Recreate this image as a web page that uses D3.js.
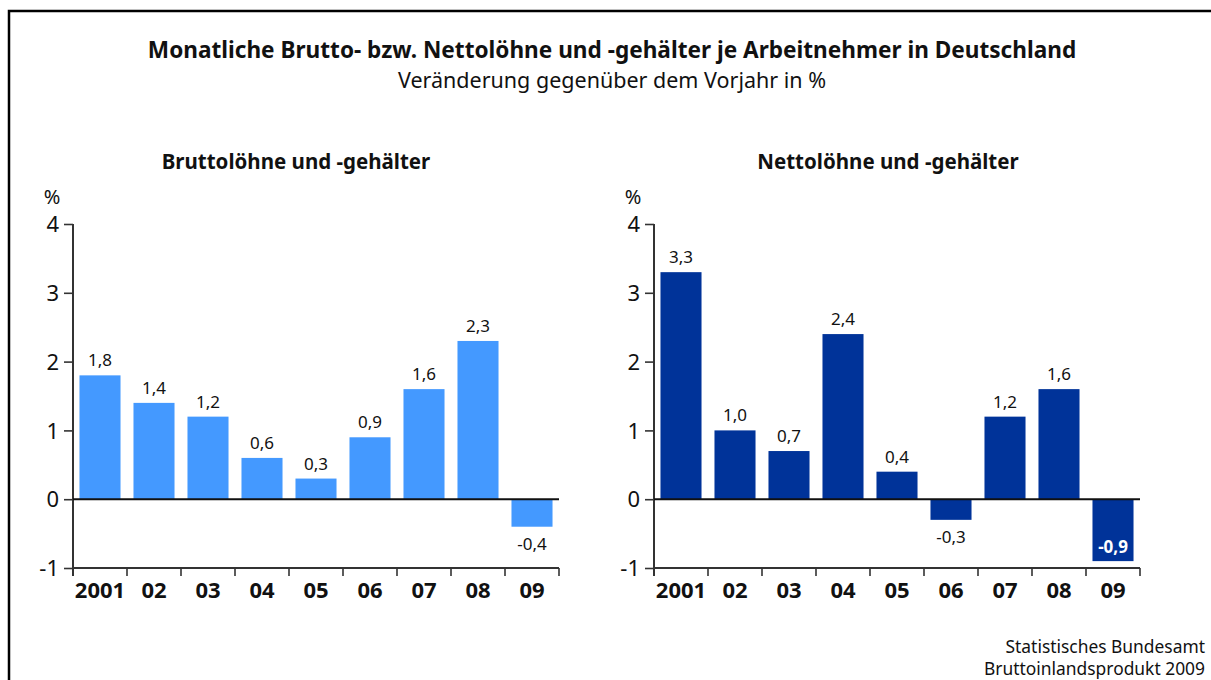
<!DOCTYPE html>
<html><head><meta charset="utf-8">
<script src="https://cdn.jsdelivr.net/npm/d3@7"></script>
<style>body{margin:0;background:#fff}svg{display:block;font-family:"Noto Sans",sans-serif}</style>
</head><body>
<svg id="c" width="1211" height="680"></svg>
<script>
const categories = ["2001","02","03","04","05","06","07","08","09"];
const brutto = [1.8,1.4,1.2,0.6,0.3,0.9,1.6,2.3,-0.4];
const netto = [3.3,1.0,0.7,2.4,0.4,-0.3,1.2,1.6,-0.9];
const yTicks = [-1,0,1,2,3,4];
const title = "Monatliche Brutto- bzw. Nettolöhne und -gehälter je Arbeitnehmer in Deutschland";
const subtitle = "Veränderung gegenüber dem Vorjahr in %";
const panelTitles = ["Bruttolöhne und -gehälter","Nettolöhne und -gehälter"];
const source = ["Statistisches Bundesamt","Bruttoinlandsprodukt 2009"];

const svg = d3.select("#c");
svg.append("path").attr("d","M9,690V11H1220").attr("fill","none").attr("stroke","#000").attr("stroke-width",2.5);

svg.append("text").attr("x",612).attr("y",58).attr("text-anchor","middle")
  .attr("font-size",22.6).attr("font-weight","bold").attr("fill","#111").text(title);
svg.append("text").attr("x",612).attr("y",88).attr("text-anchor","middle")
  .attr("font-size",21.5).attr("fill","#111").text(subtitle);

const y = d3.scaleLinear().domain([-1,4]).range([568,224]);
const fmt = v => d3.format(".1f")(v).replace(".",",").replace("−","-");

function panel(x0, data, color, ptitle, titleX, inside) {
  const x = d3.scaleBand().domain(categories).range([x0, x0+486]).paddingInner(0.24).paddingOuter(0.12);
  const g = svg.append("g");
  g.append("text").attr("x",titleX).attr("y",169).attr("text-anchor","middle")
    .attr("font-size",20.5).attr("font-weight","bold").attr("fill","#111").text(ptitle);
  g.append("text").attr("x",x0-21).attr("y",204).attr("text-anchor","middle")
    .attr("font-size",20).attr("fill","#111").text("%");
  // bars
  g.selectAll("rect.b").data(data).join("rect")
    .attr("x",(d,i)=>x(categories[i])).attr("width",x.bandwidth())
    .attr("y",d=>y(Math.max(0,d))).attr("height",d=>Math.abs(y(d)-y(0)))
    .attr("fill",color);
  // labels
  g.selectAll("text.v").data(data).join("text")
    .attr("x",(d,i)=>x(categories[i])+x.bandwidth()/2)
    .attr("y",d=> d>=0 ? y(d)-9 : (inside && d<-0.6 ? y(d)-8 : y(d)+23))
    .attr("text-anchor","middle").attr("font-size",17)
    .attr("font-weight",d=> (inside && d<-0.6) ? "bold":"normal")
    .attr("fill",d=> (inside && d<-0.6) ? "#fff":"#111")
    .text(fmt);
  // y axis
  const ya = d3.axisLeft(y).tickValues(yTicks).tickSize(9).tickPadding(5).tickFormat(d3.format("d"));
  const yg = g.append("g").attr("transform",`translate(${x0},0)`).call(ya);
  yg.select(".domain").remove();
  yg.selectAll("line").attr("stroke","#333").attr("stroke-width",1.6);
  yg.selectAll("text").attr("font-size",22).attr("fill","#111").attr("dy","0.35em")
    .attr("font-family","Noto Sans, sans-serif").text(d=>d<0?"-"+Math.abs(d):d);
  g.append("line").attr("x1",x0).attr("x2",x0).attr("y1",y(4)).attr("y2",y(-1)+8)
    .attr("stroke","#333").attr("stroke-width",2);
  // zero line
  g.append("line").attr("x1",x0).attr("x2",x0+486).attr("y1",y(0)).attr("y2",y(0))
    .attr("stroke","#111").attr("stroke-width",2);
  // x axis
  const xa = d3.axisBottom(x).tickSize(0).tickPadding(14);
  const xg = g.append("g").attr("transform",`translate(0,${y(-1)})`).call(xa);
  xg.select(".domain").attr("stroke","#333").attr("stroke-width",2).attr("d",`M${x0},0H${x0+486}`);
  xg.selectAll("text").attr("font-size",22).attr("font-weight","bold").attr("fill","#111")
    .attr("font-family","Noto Sans, sans-serif");
  const sep = d3.range(0,10).map(i=>x0+i*54);
  g.selectAll("line.s").data(sep).join("line").attr("class","s")
    .attr("x1",d=>d).attr("x2",d=>d).attr("y1",y(-1)).attr("y2",y(-1)+8)
    .attr("stroke","#333").attr("stroke-width",1.6);
}
panel(73, brutto, "#4499ff", panelTitles[0], 296, false);
panel(654, netto, "#003399", panelTitles[1], 888, true);

svg.append("text").attr("x",1205).attr("y",653).attr("text-anchor","end")
  .attr("font-size",17.4).attr("fill","#111").text(source[0]);
svg.append("text").attr("x",1205).attr("y",675).attr("text-anchor","end")
  .attr("font-size",17.4).attr("fill","#111").text(source[1]);
</script></body></html>
